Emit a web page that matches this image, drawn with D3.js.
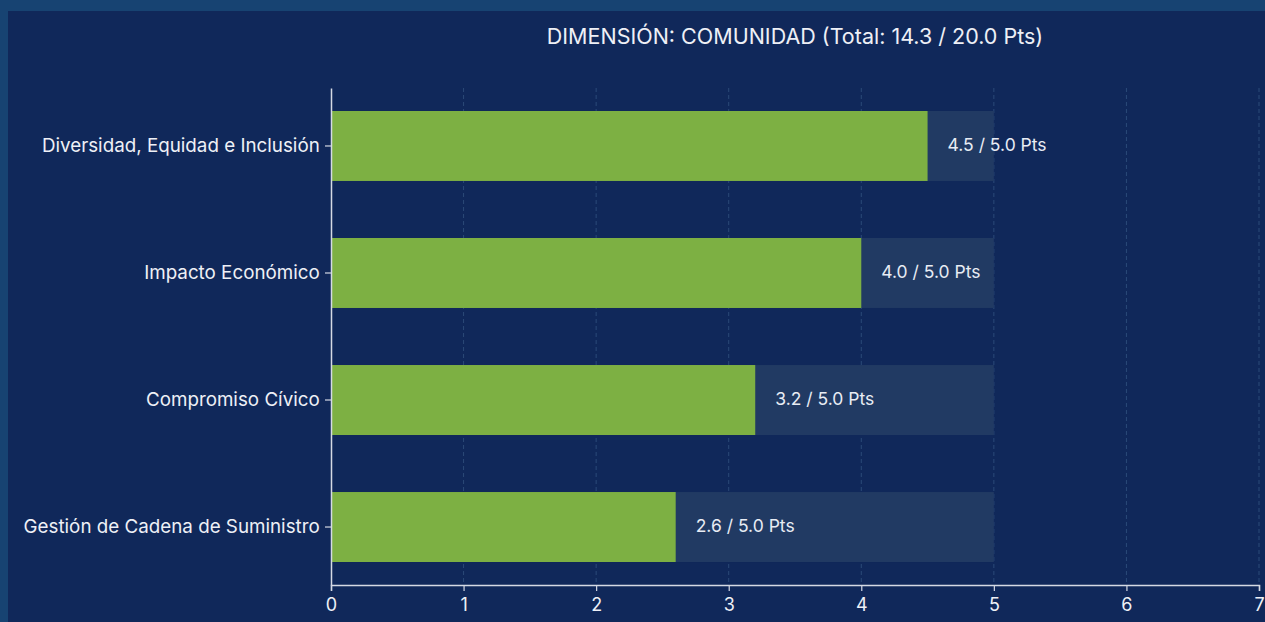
<!DOCTYPE html>
<html>
<head>
<meta charset="utf-8">
<script src="https://cdn.jsdelivr.net/npm/d3@7"></script>
<style>
  html, body { margin: 0; padding: 0; background: #174372; overflow: hidden; }
  #chart { position: absolute; left: 8px; top: 11px; }
  text { font-family: Inter, "Open Sans", sans-serif; }
</style>
</head>
<body>
<div id="chart"></div>
<script>
const categories = ["Diversidad, Equidad e Inclusión", "Impacto Económico", "Compromiso Cívico", "Gestión de Cadena de Suministro"];
const scores = [4.5, 4.0, 3.2, 2.6];
const maxScores = [5.0, 5.0, 5.0, 5.0];
const xTicks = [0, 1, 2, 3, 4, 5, 6, 7];
const title = "DIMENSIÓN: COMUNIDAD (Total: 14.3 / 20.0 Pts)";

const W = 1265 - 8, H = 622 - 11;
const margin = { top: 77, right: 6, bottom: 37, left: 323 };
const width = W - margin.left - margin.right;
const height = H - margin.top - margin.bottom;

const svg = d3.select('#chart')
    .append('svg')
    .attr('width', W)
    .attr('height', H)
    .style('background', '#10285a');

const g = svg.append('g')
    .attr('transform', `translate(${margin.left}, ${margin.top})`);

const x = d3.scaleLinear().domain([0, 7]).range([0, width]);
const y = d3.scaleBand().domain(categories).range([0, height])
    .paddingInner(0.449).paddingOuter(0.181);

// dashed grid
g.selectAll('.grid')
    .data(xTicks.slice(1))
    .join('line')
    .attr('x1', d => x(d)).attr('x2', d => x(d))
    .attr('y1', 0).attr('y2', height)
    .attr('stroke', '#2b4a78')
    .attr('stroke-width', 1)
    .attr('stroke-dasharray', '4,3');

const data = categories.map((c, i) => ({ name: c, score: scores[i], max: maxScores[i] }));

// max (background) bars
g.selectAll('.bg')
    .data(data)
    .join('rect')
    .attr('x', 0)
    .attr('y', d => y(d.name))
    .attr('width', d => x(d.max))
    .attr('height', y.bandwidth())
    .attr('fill', '#213a63');

// score bars
g.selectAll('.bar')
    .data(data)
    .join('rect')
    .attr('x', 0)
    .attr('y', d => y(d.name))
    .attr('width', d => x(d.score))
    .attr('height', y.bandwidth())
    .attr('fill', '#7db043');

// value labels
g.selectAll('.lbl')
    .data(data)
    .join('text')
    .attr('x', d => x(d.score) + 20)
    .attr('y', d => y(d.name) + y.bandwidth() / 2)
    .attr('dy', '0.3em')
    .attr('fill', '#e8ecf4')
    .style('font-size', '17.5px')
    .text(d => `${d.score.toFixed(1)} / ${d.max.toFixed(1)} Pts`);

// axes
const xAxis = g.append('g')
    .attr('transform', `translate(0, ${height})`)
    .call(d3.axisBottom(x).tickValues(xTicks).tickFormat(d3.format('d')).tickSizeOuter(6));
const yAxis = g.append('g')
    .call(d3.axisLeft(y).tickSizeOuter(0));

[xAxis, yAxis].forEach(a => {
    a.select('.domain').attr('stroke', '#d5d9e4').attr('stroke-width', 1.5);
    a.selectAll('.tick line').attr('stroke', '#d5d9e4').attr('stroke-width', 1.2);
    a.selectAll('text').attr('fill', '#eef0f6').style('font-size', '18px');
});
xAxis.selectAll('text').attr('dy', '0.95em');
yAxis.selectAll('text').style('font-size', '18.8px').attr('dx', '-0.12em').attr('dy', '0.3em');

// title
svg.append('text')
    .attr('x', margin.left + width / 2)
    .attr('y', 33)
    .attr('text-anchor', 'middle')
    .attr('fill', '#eef0f6')
    .style('font-size', '21.5px')
    .text(title);
</script>
</body>
</html>
